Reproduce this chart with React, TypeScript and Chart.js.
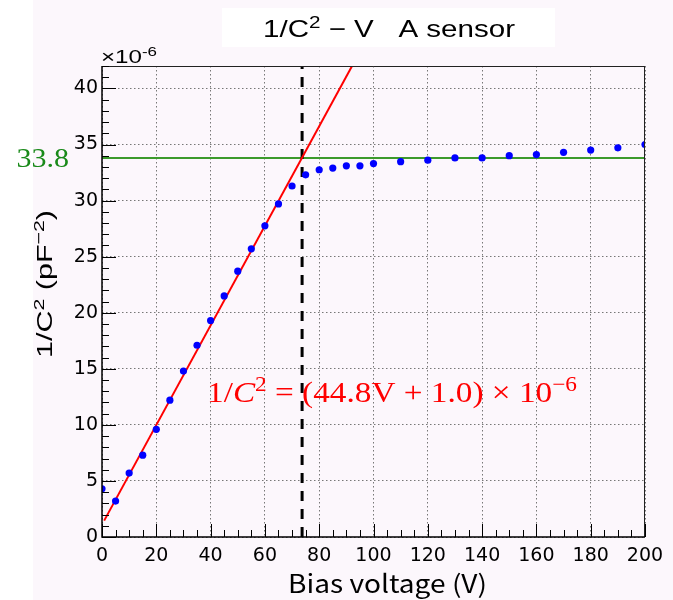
import React, { useEffect, useRef } from 'react';
import { Chart, registerables } from 'chart.js';

Chart.register(...registerables);

// ---- data ----
const biasV = [0, 5, 10, 15, 20, 25, 30, 35, 40, 45, 50, 55, 60, 65, 70, 75, 80, 85, 90, 95, 100, 110, 120, 130, 140, 150, 160, 170, 180, 190, 200];
const invC2 = [4.3, 3.2, 5.7, 7.3, 9.6, 12.2, 14.8, 17.1, 19.3, 21.5, 23.7, 25.7, 27.75, 29.7, 31.3, 32.3, 32.75, 32.9, 33.1, 33.1, 33.3, 33.47, 33.6, 33.8, 33.8, 34.0, 34.1, 34.3, 34.5, 34.7, 35.0];
const fitV = [0.8, 92.1];
const fitY = [1.46, 42.0];
const depletionV = 73.7;
const plateauY = 33.8;
const xMin = 0;
const xMax = 200;
const yMin = 0;
const yMax = 42;
const xTickValues = [0, 20, 40, 60, 80, 100, 120, 140, 160, 180, 200];
const yTickValues = [0, 5, 10, 15, 20, 25, 30, 35, 40];
const xMinorStep = 5;
const yMinorStep = 1;

const titleText = [{ t: '1/C' }, { t: '2', sup: true }, { t: ' \u2212 V   A sensor' }];
const yTitleText = [{ t: '1/C' }, { t: '2', sup: true }, { t: ' (pF' }, { t: '\u22122', sup: true }, { t: ')' }];
const xTitleText = [{ t: 'Bias voltage (V)' }];
const exponentText = [{ t: '\u00d710' }, { t: '-6', sup: true }];
const plateauLabel = [{ t: '33.8' }];
const formulaText = [
  { t: '1/' },
  { t: 'C', italic: true },
  { t: '2', sup: true },
  { t: ' = (44.8V + 1.0) \u00d7 10' },
  { t: '\u22126', sup: true },
];

type Piece = { t: string; sup?: boolean; italic?: boolean };

function drawRich(
  ctx: CanvasRenderingContext2D,
  pieces: Piece[],
  family: string,
  size: number,
  x: number,
  baseline: number,
  targetWidth: number | null,
  color: string,
  align: 'left' | 'center' | 'right',
  rotate = false
) {
  const fontFor = (p: Piece) => `${p.italic ? 'italic ' : ''}${p.sup ? size * 0.7 : size}px ${family}`;
  let W = 0;
  const widths: number[] = [];
  for (const p of pieces) {
    ctx.font = fontFor(p);
    const w = ctx.measureText(p.t).width;
    widths.push(w);
    W += w;
  }
  const sx = targetWidth ? targetWidth / W : 1;
  ctx.save();
  ctx.translate(x, baseline);
  if (rotate) ctx.rotate(-Math.PI / 2);
  ctx.scale(sx, 1);
  let cx = align === 'center' ? -W / 2 : align === 'right' ? -W : 0;
  ctx.fillStyle = color;
  ctx.textBaseline = 'alphabetic';
  ctx.textAlign = 'left';
  pieces.forEach((p, i) => {
    ctx.font = fontFor(p);
    ctx.fillText(p.t, cx, p.sup ? -size * 0.38 : 0);
    cx += widths[i];
  });
  ctx.restore();
}

const decorPlugin = {
  id: 'decor',
  beforeDraw(chart: any) {
    const ctx = chart.ctx as CanvasRenderingContext2D;
    ctx.save();
    ctx.fillStyle = '#ffffff';
    ctx.fillRect(0, 0, chart.width, chart.height);
    ctx.fillStyle = '#fcf7fc';
    ctx.fillRect(33, 0, chart.width - 33, chart.height);
    ctx.fillStyle = '#ffffff';
    ctx.fillRect(222, 8, 333, 39);
    ctx.restore();
  },
  afterDraw(chart: any) {
    const ctx = chart.ctx as CanvasRenderingContext2D;
    const { left, right, top, bottom } = chart.chartArea;
    const xs = chart.scales.x;
    const ys = chart.scales.y;
    ctx.save();
    // frame
    ctx.strokeStyle = '#222';
    ctx.lineWidth = 1;
    ctx.beginPath();
    ctx.moveTo(left, top + 0.5);
    ctx.lineTo(right, top + 0.5);
    ctx.moveTo(right - 0.5, top);
    ctx.lineTo(right - 0.5, bottom);
    ctx.stroke();
    ctx.strokeStyle = '#000';
    ctx.lineWidth = 1.5;
    ctx.beginPath();
    ctx.moveTo(left, top);
    ctx.lineTo(left, bottom);
    ctx.lineTo(right, bottom);
    ctx.stroke();
    // inner ticks
    ctx.lineWidth = 1;
    ctx.beginPath();
    for (let v = xMin; v <= xMax + 1e-9; v += xMinorStep) {
      const px = Math.round(xs.getPixelForValue(v)) + 0.5;
      const major = xTickValues.includes(v);
      ctx.moveTo(px, bottom);
      ctx.lineTo(px, bottom - (major ? 13 : 7));
    }
    for (let v = yMin; v <= yMax + 1e-9; v += yMinorStep) {
      const py = Math.round(ys.getPixelForValue(v)) + 0.5;
      const major = yTickValues.includes(v);
      ctx.moveTo(left, py);
      ctx.lineTo(left + (major ? 14 : 7), py);
    }
    ctx.stroke();
    ctx.restore();

    // texts
    drawRich(ctx, titleText, '"Liberation Sans", Arial, sans-serif', 24, 389, 37, 252, '#000', 'center');
    drawRich(ctx, exponentText, '"Liberation Sans", Arial, sans-serif', 19, 101, 63, 56, '#000', 'left');
    drawRich(ctx, yTitleText, '"Liberation Sans", Arial, sans-serif', 22, 52, 284, 148, '#000', 'center', true);
    drawRich(ctx, xTitleText, '"Noto Sans CJK JP", "Liberation Sans", sans-serif', 25, 387.5, 593, 199, '#000', 'center');
    drawRich(ctx, plateauLabel, '"Liberation Serif", "Times New Roman", serif', 28, 69, 167, 52.6, '#1a8a1a', 'right');
    drawRich(ctx, formulaText, '"Liberation Serif", "Times New Roman", serif', 30, 207, 402, 370, '#ff0000', 'left');
  },
};

export default function App() {
  const ref = useRef<HTMLCanvasElement | null>(null);
  useEffect(() => {
    document.body.style.margin = '0';
    const canvas = ref.current;
    if (!canvas) return;
    const chart = new Chart(canvas, {
      type: 'scatter',
      data: {
        datasets: [
          {
            label: 'data',
            data: biasV.map((v, i) => ({ x: v, y: invC2[i] })),
            showLine: false,
            pointRadius: 3.6,
            pointBorderWidth: 0,
            backgroundColor: '#0000ff',
            borderColor: '#0000ff',
          },
          {
            label: 'fit',
            data: fitV.map((v, i) => ({ x: v, y: fitY[i] })),
            showLine: true,
            borderColor: '#ff0000',
            borderWidth: 2,
            pointRadius: 0,
          },
          {
            label: 'depletion',
            data: [
              { x: depletionV, y: yMin },
              { x: depletionV, y: yMax },
            ],
            showLine: true,
            borderColor: '#000000',
            borderWidth: 3,
            borderDash: [10, 8],
            pointRadius: 0,
          },
          {
            label: 'plateau',
            data: [
              { x: xMin, y: plateauY },
              { x: xMax, y: plateauY },
            ],
            showLine: true,
            borderColor: '#3c9a2c',
            borderWidth: 2,
            pointRadius: 0,
          },
        ],
      },
      options: {
        animation: false,
        responsive: false,
        devicePixelRatio: 1,
        layout: { padding: { top: 66, right: 28, left: 0, bottom: 0 } },
        plugins: { legend: { display: false }, title: { display: false }, tooltip: { enabled: false } },
        scales: {
          x: {
            type: 'linear',
            min: xMin,
            max: xMax,
            afterBuildTicks: (s: any) => {
              s.ticks = xTickValues.map((v) => ({ value: v }));
            },
            afterFit: (s: any) => {
              s.height = 63;
            },
            ticks: {
              autoSkip: false,
              maxRotation: 0,
              padding: 8,
              color: '#000',
              font: { family: '"DejaVu Sans", sans-serif', size: 19 },
            },
            grid: { color: '#777', lineWidth: 1, drawTicks: false },
            border: { display: false, dash: [1.5, 2.5] },
          },
          y: {
            type: 'linear',
            min: yMin,
            max: yMax,
            afterBuildTicks: (s: any) => {
              s.ticks = yTickValues.map((v) => ({ value: v }));
            },
            afterFit: (s: any) => {
              s.width = 102;
            },
            ticks: {
              autoSkip: false,
              padding: 4,
              color: '#000',
              font: { family: '"DejaVu Sans", sans-serif', size: 19 },
            },
            grid: { color: '#777', lineWidth: 1, drawTicks: false },
            border: { display: false, dash: [1.5, 2.5] },
          },
        },
      },
      plugins: [decorPlugin],
    } as any);
    return () => chart.destroy();
  }, []);
  return (
    <div style={{ width: 673, height: 600 }}>
      <canvas ref={ref} width={673} height={600} style={{ display: 'block', width: 673, height: 600 }} />
    </div>
  );
}
